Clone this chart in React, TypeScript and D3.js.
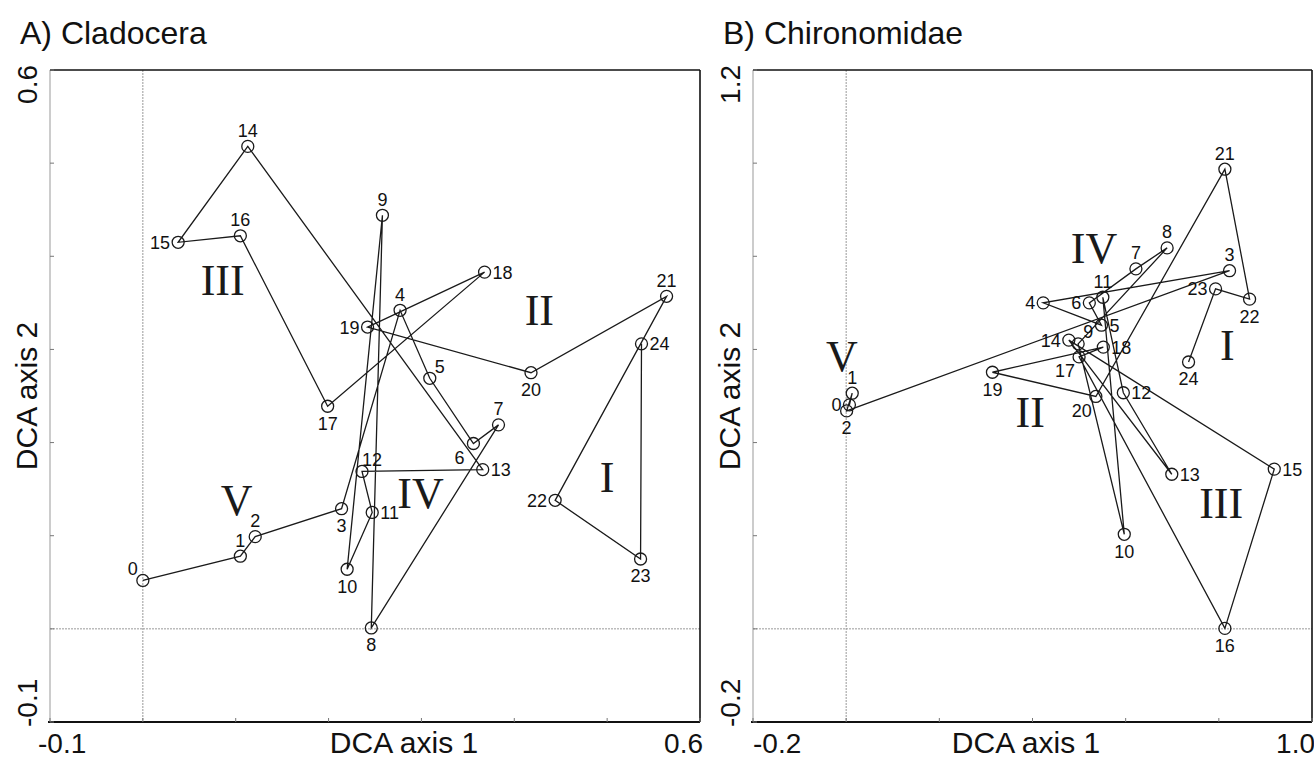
import React from "react";
import * as d3 from "d3";

// ---------- Data ----------
const sampleIds = d3.range(0, 25);

// A) Cladocera DCA scores (axis 1, axis 2) for samples 0..24
const cladoAxis1 = [0.0, 0.105, 0.121, 0.214, 0.277, 0.309, 0.356, 0.383, 0.246, 0.258, 0.22, 0.247, 0.236, 0.366, 0.113, 0.038, 0.105, 0.199, 0.368, 0.242, 0.418, 0.564, 0.444, 0.536, 0.537];
const cladoAxis2 = [0.052, 0.078, 0.099, 0.129, 0.342, 0.269, 0.199, 0.219, 0.001, 0.444, 0.064, 0.125, 0.169, 0.171, 0.518, 0.415, 0.422, 0.239, 0.383, 0.324, 0.275, 0.357, 0.138, 0.075, 0.306];
const cladoLabelPos = ["al", "a", "a", "b", "a", "ar", "bl", "a", "b", "a", "b", "r", "ar", "r", "a", "l", "a", "b", "r", "l", "b", "a", "l", "b", "r"];
const cladoZones = ["III", "II", "IV", "I", "V"];
const cladoZoneX = [0.086, 0.427, 0.299, 0.5, 0.101];
const cladoZoneY = [0.358, 0.326, 0.13, 0.147, 0.122];

// B) Chironomidae DCA scores
const chiroAxis1 = [0.007, 0.013, 0.001, 0.823, 0.423, 0.548, 0.522, 0.622, 0.689, 0.498, 0.597, 0.551, 0.595, 0.699, 0.478, 0.919, 0.813, 0.5, 0.552, 0.314, 0.536, 0.813, 0.866, 0.793, 0.735];
const chiroAxis2 = [0.481, 0.506, 0.468, 0.769, 0.7, 0.652, 0.7, 0.773, 0.818, 0.612, 0.203, 0.712, 0.507, 0.332, 0.62, 0.343, 0.001, 0.584, 0.605, 0.551, 0.499, 0.987, 0.708, 0.73, 0.573];
const chiroLabelPos = ["l", "a", "b", "a", "l", "r", "l", "a", "a", "ar", "b", "a", "r", "r", "l", "r", "b", "bl", "r", "b", "bl", "a", "b", "l", "b"];
const chiroZones = ["IV", "I", "II", "III", "V"];
const chiroZoneX = [0.532, 0.818, 0.395, 0.805, -0.009];
const chiroZoneY = [0.786, 0.577, 0.433, 0.238, 0.553];

const cladoTitle = "A) Cladocera";
const chiroTitle = "B) Chironomidae";
const axis1Title = "DCA axis 1";
const axis2Title = "DCA axis 2";
const cladoXTickLabels = ["-0.1", "0.6"];
const cladoYTickLabels = ["-0.1", "0.6"];
const chiroXTickLabels = ["-0.2", "1.0"];
const chiroYTickLabels = ["-0.2", "1.2"];

const SANS = "'Liberation Sans', Arial, sans-serif";
const SERIF = "'Liberation Serif', 'Times New Roman', serif";

type PanelProps = {
  title: string;
  xs: number[];
  ys: number[];
  labelPos: string[];
  zones: string[];
  zoneX: number[];
  zoneY: number[];
  xDomain: [number, number];
  yDomain: [number, number];
  step: number;
  xTickLabels: string[];
  yTickLabels: string[];
  left: number;
  right: number;
  top: number;
  bottom: number;
  xTitleX: number;
  firstTickShift: number;
};

function Panel(p: PanelProps) {
  const x = d3.scaleLinear().domain(p.xDomain).range([p.left, p.right]);
  const y = d3.scaleLinear().domain(p.yDomain).range([p.bottom, p.top]);
  const xt = d3.range(p.xDomain[0], p.xDomain[1] + p.step / 2, p.step);
  const yt = d3.range(p.yDomain[0], p.yDomain[1] + p.step / 2, p.step);
  const line = d3
    .line<number>()
    .x((i) => x(p.xs[i]))
    .y((i) => y(p.ys[i]));
  const off: Record<string, [number, number, string]> = {
    a: [0, -16, "middle"],
    b: [0, 17, "middle"],
    l: [-8, 0, "end"],
    r: [8, 0, "start"],
    al: [-10, -12, "middle"],
    ar: [10, -12, "middle"],
    bl: [-14, 14, "middle"],
  };
  const axisLabelX = p.left - 13;
  const tickBase = 753;
  return (
    <g>
      <text x={p.left - 30} y={44} fontFamily={SANS} fontSize={32} fill="#111">
        {p.title}
      </text>
      {/* zero reference lines */}
      <line x1={x(0)} x2={x(0)} y1={p.top} y2={p.bottom} stroke="#999" strokeWidth={1} strokeDasharray="2,1" />
      <line x1={p.left} x2={p.right} y1={y(0)} y2={y(0)} stroke="#999" strokeWidth={1} strokeDasharray="2,1" />
      {/* frame */}
      <line x1={p.left} x2={p.left} y1={p.top} y2={p.bottom} stroke="#999" strokeWidth={1} />
      <line x1={p.left} x2={p.right} y1={p.top} y2={p.top} stroke="#111" strokeWidth={1.6} />
      <line x1={p.right} x2={p.right} y1={p.top} y2={p.bottom} stroke="#111" strokeWidth={1.6} />
      <line x1={p.left - 2} x2={p.right} y1={p.bottom} y2={p.bottom} stroke="#111" strokeWidth={2} />
      {xt.map((v, i) => (
        <line key={"xt" + i} x1={x(v)} x2={x(v)} y1={p.bottom} y2={p.bottom - 4} stroke="#777" strokeWidth={1} />
      ))}
      {yt.map((v, i) => (
        <line key={"yt" + i} x1={p.left} x2={p.left + 4} y1={y(v)} y2={y(v)} stroke="#777" strokeWidth={1} />
      ))}
      {/* tick labels */}
      <text x={p.left + p.firstTickShift} y={tickBase} fontFamily={SANS} fontSize={28} textAnchor="start" fill="#111">
        {p.xTickLabels[0]}
      </text>
      <text x={p.right + 3} y={tickBase} fontFamily={SANS} fontSize={28} textAnchor="end" fill="#111">
        {p.xTickLabels[1]}
      </text>
      <text
        transform={`translate(${axisLabelX},${p.bottom + 5}) rotate(-90)`}
        fontFamily={SANS}
        fontSize={28}
        textAnchor="start"
        fill="#111"
      >
        {p.yTickLabels[0]}
      </text>
      <text
        transform={`translate(${axisLabelX},${p.top - 5}) rotate(-90)`}
        fontFamily={SANS}
        fontSize={28}
        textAnchor="end"
        fill="#111"
      >
        {p.yTickLabels[1]}
      </text>
      <text x={p.xTitleX} y={tickBase} fontFamily={SANS} fontSize={30} textAnchor="middle" fill="#111">
        {axis1Title}
      </text>
      <text
        transform={`translate(${axisLabelX},${(p.top + p.bottom) / 2}) rotate(-90)`}
        fontFamily={SANS}
        fontSize={30}
        textAnchor="middle"
        fill="#111"
      >
        {axis2Title}
      </text>
      {/* trajectory */}
      <path d={line(sampleIds) || ""} fill="none" stroke="#1a1a1a" strokeWidth={1.3} />
      {sampleIds.map((i) => (
        <circle key={"c" + i} cx={x(p.xs[i])} cy={y(p.ys[i])} r={6} fill="none" stroke="#1a1a1a" strokeWidth={1.3} />
      ))}
      {sampleIds.map((i) => {
        const o = off[p.labelPos[i]];
        return (
          <text
            key={"l" + i}
            x={x(p.xs[i]) + o[0]}
            y={y(p.ys[i]) + o[1]}
            dy="0.36em"
            textAnchor={o[2] as any}
            fontFamily={SANS}
            fontSize={18}
            fill="#111"
          >
            {i}
          </text>
        );
      })}
      {p.zones.map((z, i) => (
        <text
          key={"z" + i}
          x={x(p.zoneX[i])}
          y={y(p.zoneY[i])}
          textAnchor="middle"
          fontFamily={SERIF}
          fontSize={44}
          fill="#1a1a1a"
        >
          {z}
        </text>
      ))}
    </g>
  );
}

export default function App() {
  return (
    <svg
      width={1314}
      height={760}
      viewBox="0 0 1314 760"
      style={{ position: "absolute", left: 0, top: 0, background: "#fff" }}
    >
      <rect x={0} y={0} width={1314} height={760} fill="#fff" />
      <Panel
        title={cladoTitle}
        xs={cladoAxis1}
        ys={cladoAxis2}
        labelPos={cladoLabelPos}
        zones={cladoZones}
        zoneX={cladoZoneX}
        zoneY={cladoZoneY}
        xDomain={[-0.1, 0.6]}
        yDomain={[-0.1, 0.6]}
        step={0.1}
        xTickLabels={cladoXTickLabels}
        yTickLabels={cladoYTickLabels}
        left={50}
        right={700}
        top={70}
        bottom={722}
        xTitleX={404}
        firstTickShift={-12}
      />
      <Panel
        title={chiroTitle}
        xs={chiroAxis1}
        ys={chiroAxis2}
        labelPos={chiroLabelPos}
        zones={chiroZones}
        zoneX={chiroZoneX}
        zoneY={chiroZoneY}
        xDomain={[-0.2, 1.0]}
        yDomain={[-0.2, 1.2]}
        step={0.2}
        xTickLabels={chiroXTickLabels}
        yTickLabels={chiroYTickLabels}
        left={753}
        right={1312}
        top={70}
        bottom={722}
        xTitleX={1026}
        firstTickShift={0}
      />
    </svg>
  );
}
